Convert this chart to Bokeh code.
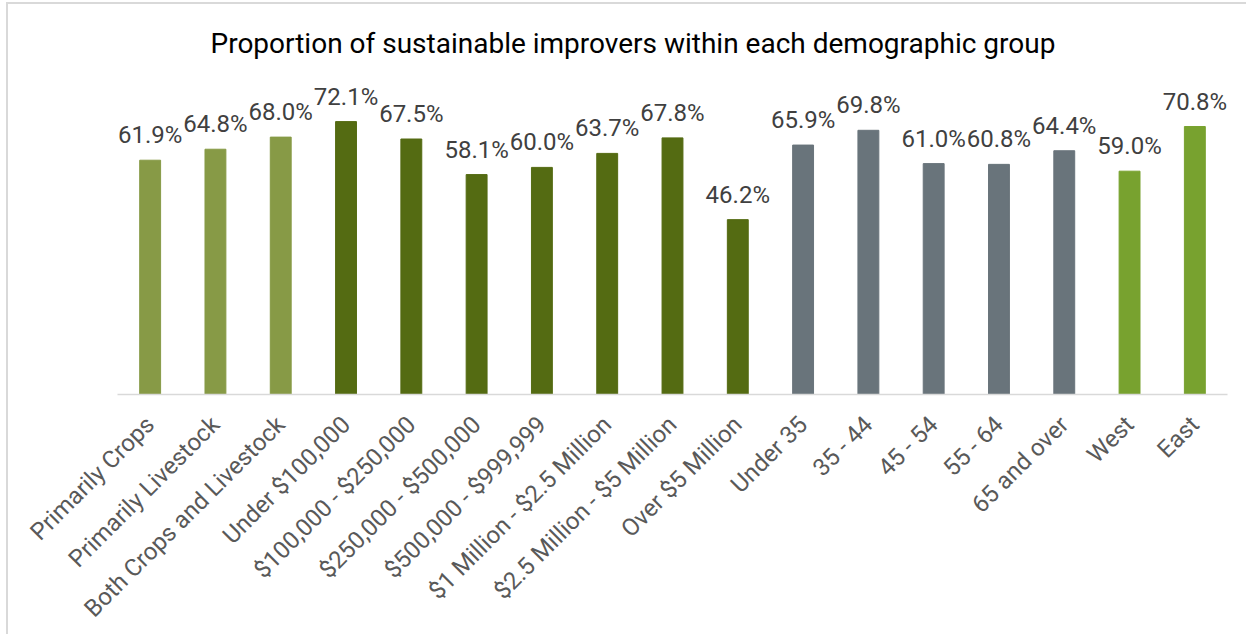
import math
from bokeh.plotting import figure
from bokeh.models import ColumnDataSource, FactorRange, Range1d, Title
from bokeh.embed import file_html
from bokeh.resources import INLINE

categories = ["Primarily Crops", "Primarily Livestock", "Both Crops and Livestock",
              "Under $100,000", "$100,000 - $250,000", "$250,000 - $500,000",
              "$500,000 - $999,999", "$1 Million - $2.5 Million", "$2.5 Million - $5 Million",
              "Over $5 Million", "Under 35", "35 - 44", "45 - 54", "55 - 64",
              "65 and over", "West", "East"]
values = [61.9, 64.8, 68.0, 72.1, 67.5, 58.1, 60.0, 63.7, 67.8, 46.2,
          65.9, 69.8, 61.0, 60.8, 64.4, 59.0, 70.8]
groups = ["Farm type"] * 3 + ["Revenue"] * 7 + ["Age"] * 5 + ["Region"] * 2
group_colors = {"Farm type": "#879A46", "Revenue": "#546B12",
                "Age": "#69747B", "Region": "#78A22F"}

labels = [f"{v:.1f}%" for v in values]
colors = [group_colors[g] for g in groups]
source = ColumnDataSource(dict(cat=categories, val=values, lab=labels, col=colors))

W, H = 1240, 632
frame_left, frame_right, frame_top, frame_bottom = 109, 1219, 70, 390

p = figure(width=W, height=H, output_backend="svg", toolbar_location=None,
           x_range=FactorRange(*categories, range_padding=0),
           y_range=Range1d(0, (frame_bottom - frame_top) / 3.785),
           min_border_left=frame_left, min_border_right=W - frame_right,
           min_border_top=frame_top, min_border_bottom=H - frame_bottom)
p.margin = (2, 0, 0, 6)
p.styles = {"border-top": "2px solid #D9D9D9", "border-left": "2px solid #D9D9D9"}

p.vbar(x="cat", top="val", width=0.32, color="col", source=source)
p.text(x="cat", y="val", text="lab", source=source, text_align="center",
       text_baseline="alphabetic", y_offset=-25, text_font_size="24px",
       text_color="#404040", text_font={"value": "Roboto"})

t = Title(text="Proportion of sustainable improvers within each demographic group",
          align="left", offset=93, text_font="Roboto", text_font_size="28px",
          text_font_style="normal", text_color="#000000", standoff=29)
p.add_layout(t, "above")

p.yaxis.visible = False
p.xgrid.grid_line_color = None
p.ygrid.grid_line_color = None
p.outline_line_color = None
p.xaxis.axis_line_color = "#D9D9D9"
p.xaxis.axis_line_width = 1.5
p.xaxis.major_tick_line_color = None
p.xaxis.minor_tick_line_color = None
p.xaxis.major_label_orientation = math.pi / 4
p.xaxis.major_label_text_font = "Roboto"
p.xaxis.major_label_text_font_size = "24px"
p.xaxis.major_label_text_color = "#595959"
p.xaxis.major_label_standoff = 20

open("out.html", "w").write(file_html(p, INLINE))
